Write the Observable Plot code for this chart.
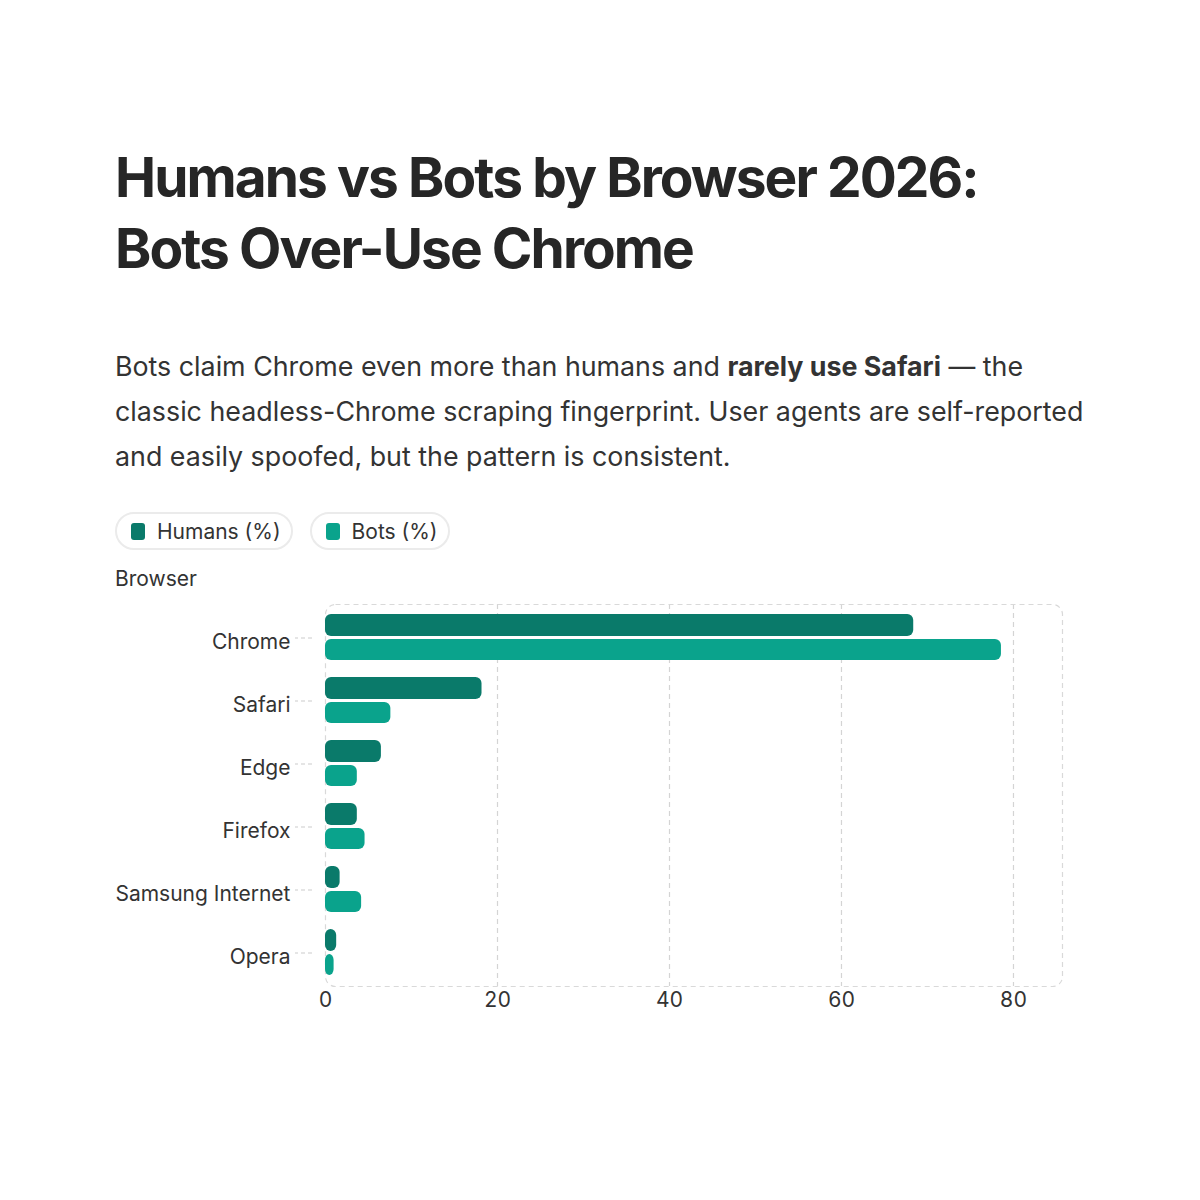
<!DOCTYPE html>
<html>
<head>
<meta charset="utf-8">
<script src="https://cdn.jsdelivr.net/npm/d3@7"></script>
<script src="https://cdn.jsdelivr.net/npm/@observablehq/plot@0.6"></script>
<style>
  html, body { margin: 0; padding: 0; background: #fff; }
  body { width: 1200px; height: 1200px; position: relative; font-family: Inter, "Noto Sans", sans-serif; color: #262626; }
  #title { position: absolute; left: 115px; top: 142px; margin: 0; font-size: 55px; line-height: 71px; font-weight: 700; letter-spacing: -0.035em; color: #262626; }
  #subtitle { position: absolute; left: 115px; top: 344px; width: 975px; margin: 0; font-size: 26.8px; line-height: 45px; color: #333; font-weight: 400; }
  #subtitle b { font-weight: 700; }
  #legend { position: absolute; left: 115px; top: 512px; display: flex; gap: 17px; }
  .pill { display: flex; align-items: center; height: 34px; padding: 0 10px 0 14px; border: 2px solid #ebebeb; border-radius: 20px; font-size: 21px; color: #333; }
  .sw { width: 14px; height: 17px; border-radius: 3px; margin-right: 12px; }
  #ylab { position: absolute; left: 115px; top: 566px; font-size: 21px; color: #333; }
  #chart { position: absolute; left: 115px; top: 584px; }
</style>
</head>
<body>
<h1 id="title">Humans vs Bots by Browser 2026:<br>Bots Over-Use Chrome</h1>
<p id="subtitle">Bots claim Chrome even more than humans and <b>rarely use Safari</b> — the classic headless-Chrome scraping fingerprint. User agents are self-reported and easily spoofed, but the pattern is consistent.</p>
<div id="legend"></div>
<div id="ylab">Browser</div>
<div id="chart"></div>
<script>
const browsers = ["Chrome", "Safari", "Edge", "Firefox", "Samsung Internet", "Opera"];
const humans = [68.4, 18.2, 6.5, 3.7, 1.7, 1.3];
const bots = [78.6, 7.6, 3.7, 4.6, 4.2, 1.0];
const xTicks = [0, 20, 40, 60, 80];
const seriesNames = ["Humans (%)", "Bots (%)"];
const seriesColors = ["#0a7a6a", "#0aa38c"];

const rows = browsers.map((b, i) => ({browser: b, humans: humans[i], bots: bots[i]}));

const legend = document.getElementById("legend");
seriesNames.forEach((n, i) => {
  const p = document.createElement("div");
  p.className = "pill";
  p.innerHTML = `<span class="sw" style="background:${seriesColors[i]}"></span><span>${n}</span>`;
  legend.appendChild(p);
});

const chart = Plot.plot({
  width: 970,
  height: 442,
  marginLeft: 210,
  marginRight: 23,
  marginTop: 20,
  marginBottom: 40,
  style: {fontFamily: "Inter, 'Noto Sans', sans-serif", fontSize: "21px", color: "#333", background: "transparent", overflow: "visible"},
  x: {domain: [0, 85.7], label: null},
  y: {domain: browsers, padding: 0, label: null},
  marks: [
    Plot.gridX({ticks: xTicks.slice(1), stroke: "#d4d4d4", strokeOpacity: 1, strokeDasharray: "5,4", strokeWidth: 1.2}),
    Plot.frame({stroke: "#d9d9d9", strokeDasharray: "5,4", strokeWidth: 1.2, rx: 10}),
    Plot.barX(rows, {x: "humans", y: "browser", fill: seriesColors[0], insetTop: 8, insetBottom: 33, rx: 6}),
    Plot.barX(rows, {x: "bots", y: "browser", fill: seriesColors[1], insetTop: 33, insetBottom: 9, rx: 6}),
    Plot.axisX({ticks: xTicks, tickSize: 0, tickPadding: 6, fontSize: 21, color: "#333", label: null}),
    Plot.axisY({tickSize: 17, dx: -13, tickFormat: () => "", color: "#333", strokeDasharray: "4,3", strokeOpacity: 0.25, label: null}),
    Plot.axisY({tickSize: 0, tickPadding: 35, dy: 4, fontSize: 21, color: "#333", label: null})
  ]
});
document.getElementById("chart").appendChild(chart);
</script>
</body>
</html>
